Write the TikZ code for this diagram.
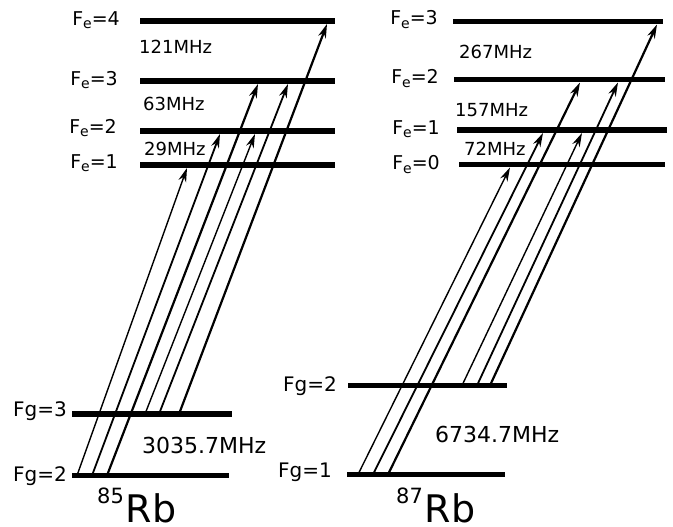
\documentclass[tikz,border=0pt]{standalone}
\usepackage{fontspec}
\setmainfont{DejaVu Sans}
\usepackage{tikz}
\usetikzlibrary{arrows.meta, positioning}

\newcommand{\fexc}[1]{F\raisebox{-3.5pt}{\fontsize{14}{14}\selectfont e}=#1}
\newcommand{\fgnd}[1]{Fg=#1}
\newcommand{\isotope}[2]{\raisebox{19pt}{\fontsize{21}{21}\selectfont #1}\hspace{2pt}{\fontsize{38}{40}\selectfont #2}}

\begin{document}
\begin{tikzpicture}[x=1pt, y=-1pt,
      lvline/.style={fill=black, inner sep=0pt, minimum height=5.5pt, anchor=west},
      lvl/.style={inner sep=0pt, font=\fontsize{19}{21}\selectfont},
      glvl/.style={inner sep=0pt, font=\fontsize{20}{22}\selectfont},
      freq/.style={inner sep=0pt, anchor=base west, font=\fontsize{18}{20}\selectfont},
      bigfreq/.style={inner sep=0pt, anchor=base west, font=\fontsize{22}{24}\selectfont},
      arr/.style={-{Stealth[length=14pt, width=8pt, inset=4.5pt]}, black},
      weak/.style={arr, line width=1.4pt},
      mid/.style={arr, line width=1.8pt},
      strong/.style={arr, line width=2.2pt}
    ]
      \useasboundingbox (0,0) rectangle (673,527);

      % 85Rb levels
      \node[lvline, minimum width=195pt] (le4) at (140,21) {};
      \node[lvline, minimum width=195pt] (le3) at (140,81) {};
      \node[lvline, minimum width=195pt] (le2) at (140,131) {};
      \node[lvline, minimum width=195pt] (le1) at (140,165) {};
      \node[lvline, minimum width=160pt] (lg3) at (72,414) {};
      \node[lvline, minimum width=157pt] (lg2) at (72,475.5) {};

      \node[lvl, left=20pt of le4, yshift=1pt] (le4t) {\fexc{4}};
      \node[lvl, left=22pt of le3, yshift=1pt] (le3t) {\fexc{3}};
      \node[lvl, left=23pt of le2, yshift=3pt] (le2t) {\fexc{2}};
      \node[lvl, left=22pt of le1, yshift=2pt] (le1t) {\fexc{1}};
      \node[glvl, left=5pt of lg3, yshift=3pt] (lg3t) {\fgnd{3}};
      \node[glvl, left=5pt of lg2, yshift=-1pt] (lg2t) {\fgnd{2}};

      \node[freq] (f121) at (139,54) {121MHz};
      \node[freq] (f63) at (143,111) {63MHz};
      \node[freq] (f29) at (144,156) {29MHz};
      \node[bigfreq] (f3035) at (142,453) {3035.7MHz};
      \node[inner sep=0pt, anchor=base west] (rb85) at (97,522) {\isotope{85}{Rb}};

      % 87Rb levels
      \node[lvline, minimum width=210pt] (re3) at (453,21.5) {};
      \node[lvline, minimum width=211pt] (re2) at (454,79.5) {};
      \node[lvline, minimum width=210pt] (re1) at (457,130) {};
      \node[lvline, minimum width=206pt] (re0) at (459,164.5) {};
      \node[lvline, minimum width=159pt] (rg2) at (348,385.5) {};
      \node[lvline, minimum width=158pt] (rg1) at (347,474.5) {};

      \node[lvl, left=15pt of re3, yshift=2pt] (re3t) {\fexc{3}};
      \node[lvl, left=15pt of re2, yshift=1pt] (re2t) {\fexc{2}};
      \node[lvl, left=17pt of re1, yshift=1pt] (re1t) {\fexc{1}};
      \node[lvl, left=19pt of re0, yshift=0pt] (re0t) {\fexc{0}};
      \node[glvl, left=11pt of rg2, yshift=-1pt] (rg2t) {\fgnd{2}};
      \node[glvl, left=15pt of rg1, yshift=2pt] (rg1t) {\fgnd{1}};

      \node[freq] (f267) at (459,59) {267MHz};
      \node[freq] (f157) at (455,117) {157MHz};
      \node[freq] (f72) at (464,156) {72MHz};
      \node[bigfreq] (f6734) at (435,442) {6734.7MHz};
      \node[inner sep=0pt, anchor=base west] (rb87) at (396,522) {\isotope{87}{Rb}};

      % transitions 85Rb
      \draw[weak] ([xshift=5pt]lg2.west) -- ([xshift=47pt]le1.south west);
      \draw[mid] ([xshift=20pt]lg2.west) -- ([xshift=80pt]le2.south west);
      \draw[strong] ([xshift=35pt]lg2.west) -- ([xshift=118pt]le3.south west);
      \draw[weak] ([xshift=73pt]lg3.west) -- ([xshift=115pt]le2.south west);
      \draw[mid] ([xshift=87pt]lg3.west) -- ([xshift=148pt]le3.south west);
      \draw[strong] ([xshift=107pt]lg3.west) -- ([xshift=187pt]le4.south west);

      % transitions 87Rb
      \draw[weak] ([xshift=11pt]rg1.west) -- ([xshift=51pt]re0.south west);
      \draw[mid] ([xshift=26pt]rg1.west) -- ([xshift=86pt]re1.south west);
      \draw[strong] ([xshift=41pt]rg1.west) -- ([xshift=126pt]re2.south west);
      \draw[weak] ([xshift=114pt]rg2.west) -- ([xshift=125pt]re1.south west);
      \draw[mid] ([xshift=129pt]rg2.west) -- ([xshift=164pt]re2.south west);
      \draw[strong] ([xshift=142pt]rg2.west) -- ([xshift=204pt]re3.south west);
    \end{tikzpicture}
\end{document}
